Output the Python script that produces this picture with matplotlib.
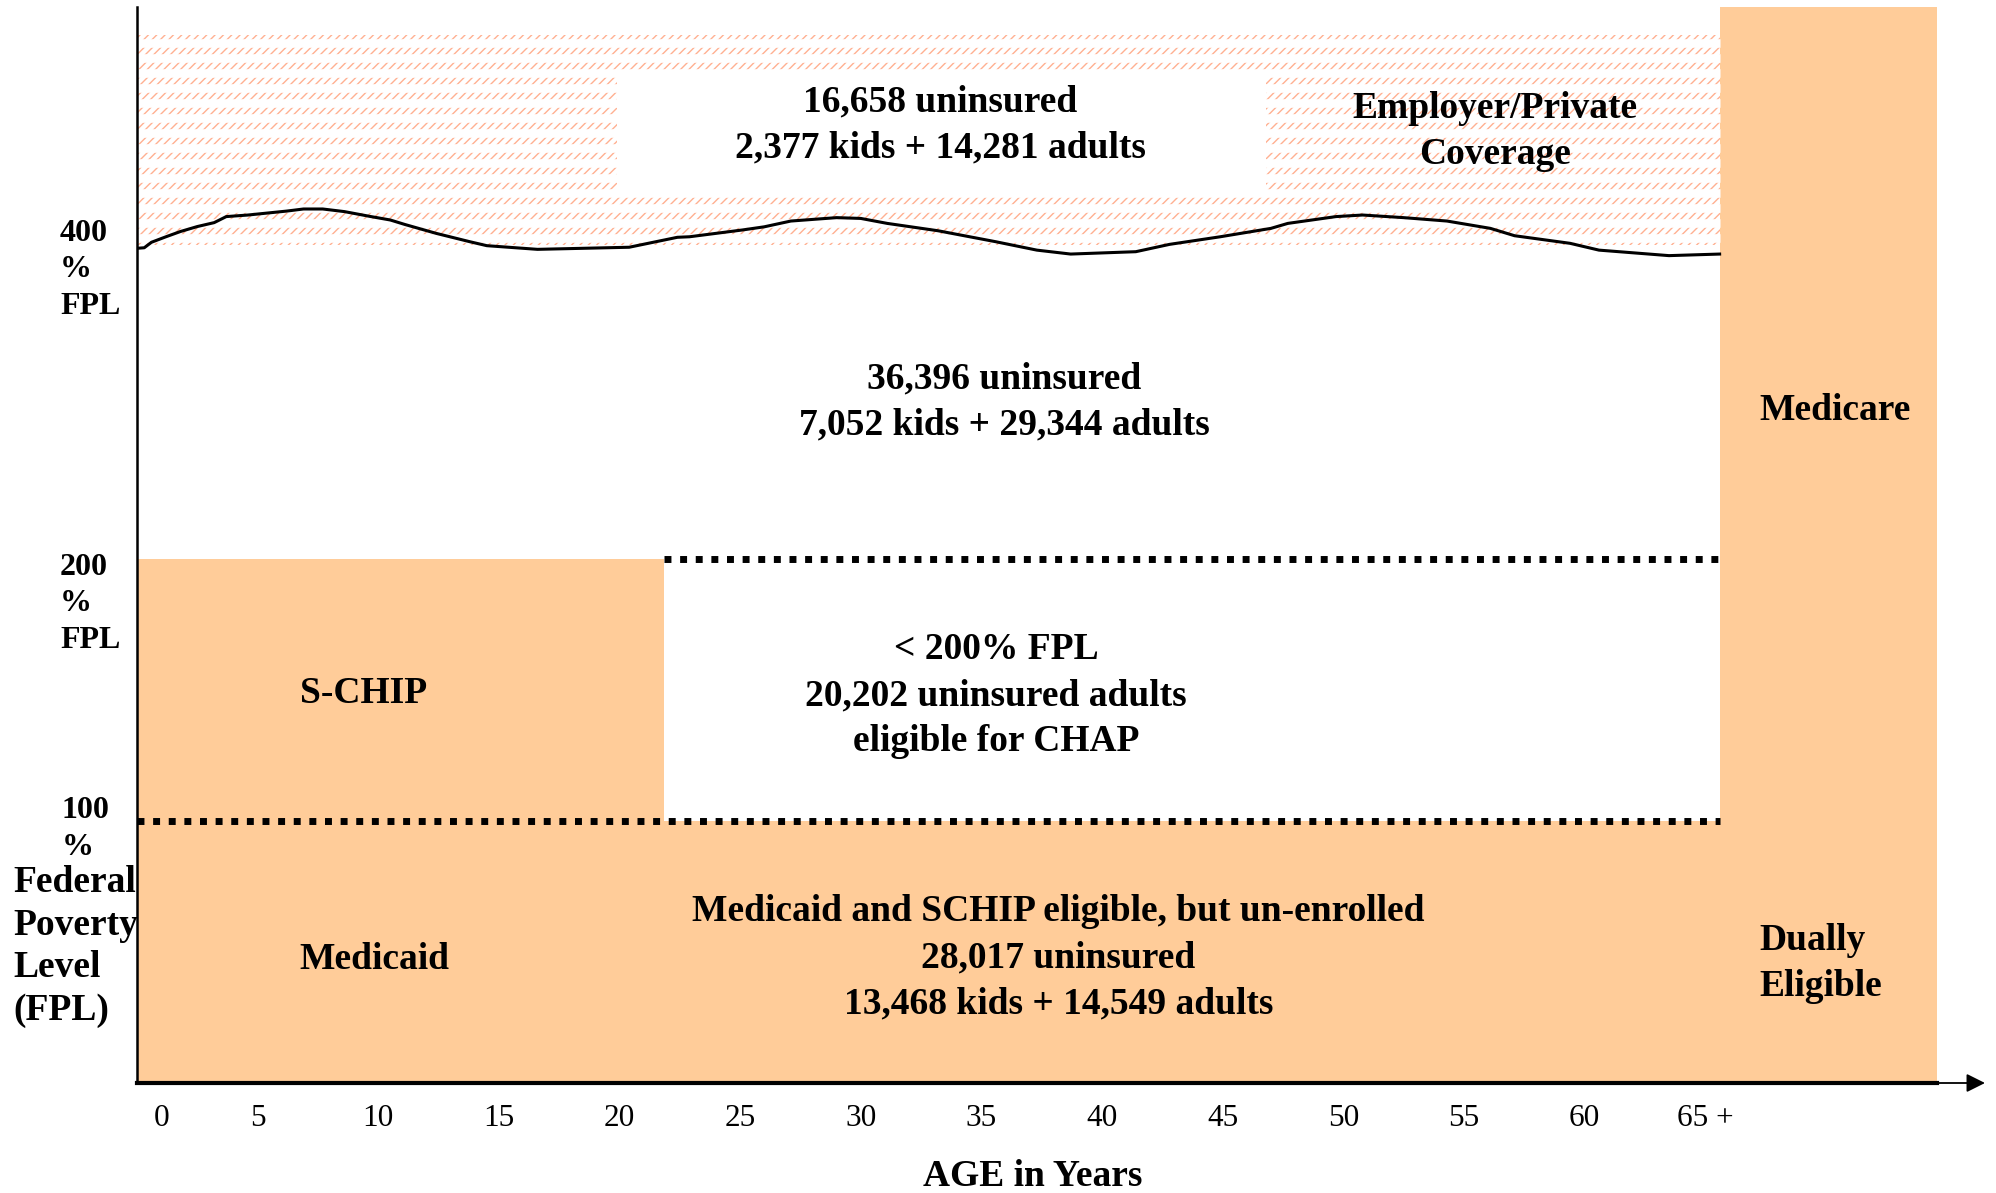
import numpy as np
import matplotlib
matplotlib.use('Agg')
import matplotlib.pyplot as plt
from matplotlib.patches import Rectangle

plt.rcParams['font.family'] = ['Liberation Serif', 'DejaVu Serif']
plt.rcParams['hatch.linewidth'] = 1.0

# --- data ----------------------------------------------------------------
# x axis = age in years, y axis = income as % of the federal poverty level
age_ticks = [1, 5, 10, 15, 20, 25, 30, 35, 40, 45, 50, 55, 60, 65]
age_labels = ['0', '5', '10', '15', '20', '25', '30', '35', '40', '45',
              '50', '55', '60', '65 +']

# wavy "400% FPL" boundary line
curve_age = [0.0, 0.3, 0.6, 1.2, 1.8, 2.5, 3.2, 3.7, 4.6, 6.2, 6.9, 7.7, 8.6,
             9.7, 10.5, 11.1, 12.4, 13.8, 14.5, 16.6, 20.4, 22.4, 22.9, 25.1,
             26.0, 27.1, 29.0, 30.0, 31.1, 33.2, 35.6, 37.3, 38.7, 41.4, 42.8,
             44.9, 47.0, 47.7, 49.7, 50.8, 52.5, 54.3, 56.1, 57.1, 59.4, 60.6,
             63.5, 65.6]
curve_fpl = [318.6, 318.8, 320.9, 323.0, 325.0, 326.9, 328.4, 330.7, 331.3,
             332.8, 333.6, 333.6, 332.6, 330.7, 329.4, 327.7, 324.3, 321.1,
             319.6, 318.2, 319.0, 322.8, 323.0, 325.6, 326.8, 329.0, 330.3,
             330.0, 328.1, 325.3, 321.1, 317.9, 316.4, 317.3, 320.1, 323.0,
             326.2, 328.1, 330.7, 331.3, 330.3, 329.0, 326.2, 323.4, 320.5,
             317.9, 315.8, 316.4]

schip_age_max = 21.85      # S-CHIP covers kids up to here
medicare_age = 65.6        # Medicare starts
chart_age_max = 74.6       # right edge of the Medicare column
private_band = (320, 400)  # employer / private coverage band
fpl_100 = 100
fpl_200 = 200

ORANGE = '#FFCC99'
SALMON = '#FFB091'

fig = plt.figure(figsize=(19.96, 11.93), dpi=100, facecolor='white')
ax = fig.add_axes([137 / 1996, 110 / 1193, 1848 / 1996, 1076 / 1193])
ax.set_xlim(0, 76.6)
ax.set_ylim(0, 410.7)
for s in ax.spines.values():
    s.set_visible(False)
ax.set_yticks([])

# employer/private hatched band (rows of little slashes)
ax.add_patch(Rectangle((0, private_band[0]), medicare_age,
                       private_band[1] - private_band[0],
                       facecolor='white', edgecolor=SALMON, linewidth=0,
                       hatch='////', zorder=1))
# break the diagonal hatch into rows
row_gaps = np.arange(private_band[1] - 2.9, private_band[0], -5.73)
ax.hlines(row_gaps, 0, medicare_age, colors='white', linewidth=6.2, zorder=2)

# white label box sitting on the hatch
ax.add_patch(Rectangle((19.9, 338.5), 26.9, 46.6, facecolor='white',
                       edgecolor='none', zorder=3))

# 400% FPL curve
ax.plot(curve_age, curve_fpl, color='black', linewidth=2.2, zorder=4)

# orange programme areas
ax.add_patch(Rectangle((0, 0), chart_age_max, fpl_100, facecolor=ORANGE,
                       edgecolor='none', zorder=1))
ax.add_patch(Rectangle((0, fpl_100), schip_age_max, fpl_200 - fpl_100,
                       facecolor=ORANGE, edgecolor='none', zorder=1))
ax.add_patch(Rectangle((medicare_age, 0), chart_age_max - medicare_age, 410.7,
                       facecolor=ORANGE, edgecolor='none', zorder=1))

# dotted FPL thresholds
dots = (0, (1, 1.25))
ax.plot([0, medicare_age], [fpl_100, fpl_100], color='black', linewidth=5,
        linestyle=dots, dash_capstyle='butt', zorder=5)
ax.plot([schip_age_max, medicare_age], [fpl_200, fpl_200], color='black',
        linewidth=5, linestyle=dots, dash_capstyle='butt', zorder=5)

# axes lines
ax.plot([0, 0], [0, 410.7], color='black', linewidth=1.8, clip_on=False,
        zorder=6)
ax.plot([0, chart_age_max], [0, 0], color='black', linewidth=3,
        clip_on=False, zorder=6)
ax.annotate('', xy=(76.6, 0), xytext=(chart_age_max - 0.1, 0),
            arrowprops=dict(arrowstyle='-|>', color='black', lw=1.3,
                            mutation_scale=28, shrinkA=0, shrinkB=0),
            annotation_clip=False, zorder=6)

# x ticks
ax.set_xticks(age_ticks)
ax.set_xticklabels(age_labels, fontsize=22.5)
ax.tick_params(axis='x', length=0, pad=15)

# labels inside the chart (anchored on the baseline of their last line)
big = dict(fontsize=27, fontweight='bold', linespacing=1.4, zorder=7,
           va='baseline')
ax.text(33.3, 353.4, '16,658 uninsured\n2,377 kids + 14,281 adults',
        ha='center', **big)
ax.text(56.3, 350.8, 'Employer/Private\nCoverage', ha='center', **big)
ax.text(35.95, 247.7, '36,396 uninsured\n7,052 kids + 29,344 adults',
        ha='center', **big)
ax.text(67.25, 253, 'Medicare', ha='left', **big)
ax.text(9.4, 145, 'S-CHIP', ha='center', **big)
ax.text(35.6, 126.7, '< 200% FPL\n20,202 uninsured adults\neligible for CHAP',
        ha='center', **big)
ax.text(9.85, 43.5, 'Medicaid', ha='center', **big)
ax.text(38.2, 26.7, 'Medicaid and SCHIP eligible, but un-enrolled\n'
        '28,017 uninsured\n13,468 kids + 14,549 adults', ha='center', **big)
ax.text(67.25, 33.2, 'Dually\nEligible', ha='left', **big)

# left-hand FPL labels
W, H = 1996, 1193
small = dict(fontsize=23, fontweight='bold', linespacing=1.35, ha='left',
             va='baseline')
fig.text(60 / W, 1 - 314 / H, '400\n%\nFPL', **small)
fig.text(60 / W, 1 - 648 / H, '200\n%\nFPL', **small)
fig.text(62 / W, 1 - 855 / H, '100\n%', **small)
fig.text(13 / W, 1 - 1020 / H, 'Federal\nPoverty\nLevel\n(FPL)', fontsize=27,
         fontweight='bold', linespacing=1.28, ha='left', va='baseline')

fig.text(1033 / W, 1 - 1186 / H, 'AGE in Years', fontsize=27,
         fontweight='bold', ha='center', va='baseline')

plt.savefig('out.png', dpi=100, facecolor='white')
